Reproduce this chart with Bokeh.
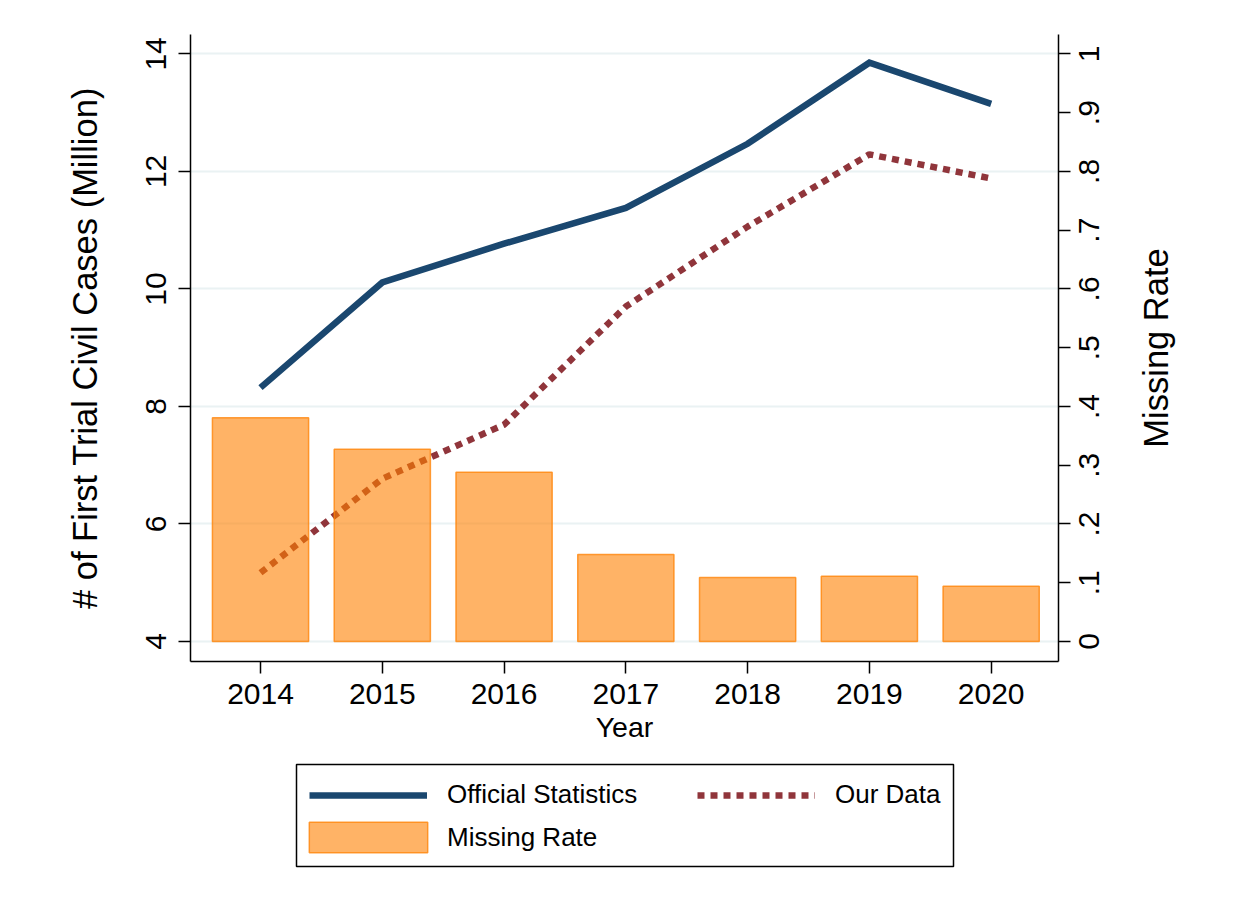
import math
from bokeh.plotting import figure
from bokeh.layouts import column
from bokeh.models import Range1d, LinearAxis, FixedTicker, Legend, LegendItem
from bokeh.embed import file_html
from bokeh.resources import INLINE

# ---- data ----
years = [2014, 2015, 2016, 2017, 2018, 2019, 2020]
official = [8.32, 10.11, 10.77, 11.38, 12.47, 13.85, 13.15]
our_data = [5.17, 6.77, 7.69, 9.70, 11.06, 12.29, 11.88]
missing_rate = [0.381, 0.327, 0.288, 0.148, 0.109, 0.111, 0.094]
left_ticks = [4, 6, 8, 10, 12, 14]
right_ticks = [0, 0.1, 0.2, 0.3, 0.4, 0.5, 0.6, 0.7, 0.8, 0.9, 1]
right_tick_labels = ["0", ".1", ".2", ".3", ".4", ".5", ".6", ".7", ".8", ".9", "1"]

# ---- style / layout (page pixels) ----
FONT = "Liberation Sans"
BLUE = "#1a476f"
MAROON = "#90353b"
ORANGE = "#ff8000"
W, H_TOTAL, H1 = 1241, 899, 755
H2 = H_TOTAL - H1
FRAME_L, FRAME_R, FRAME_T, FRAME_B = 190, 1058, 34, 661
BOX_L, BOX_R, BOX_T, BOX_B = 296, 953, 764, 866
TICK_PX, TITLE_PX = 30, 34.5

# advance widths (em) of Liberation Sans, used to centre rotated labels
EM = {".": 0.278, " ": 0.278, "M": 0.833, "i": 0.222, "s": 0.5, "n": 0.556,
      "g": 0.556, "R": 0.722, "a": 0.556, "t": 0.278, "e": 0.556}


def text_px(s, size):
    return sum(EM.get(c, 0.556) for c in s) * size


line_off = dict(line_color=BLUE, line_width=6.5, line_join="miter")
line_our = dict(line_color=MAROON, line_width=6.5, line_dash="7 6", line_cap="butt")
bar_style = dict(width=0.79, fill_color=ORANGE, fill_alpha=0.6, line_color=ORANGE,
                 line_alpha=0.75, line_width=1.5)

y_lo, y_hi = 3.66, 14.33
r_lo, r_hi = (y_lo - 4) / 10, (y_hi - 4) / 10
px_per_left = (FRAME_B - FRAME_T) / (y_hi - y_lo)
px_per_rate = (FRAME_B - FRAME_T) / (r_hi - r_lo)

p = figure(width=W, height=H1, output_backend="svg", toolbar_location=None,
           x_range=Range1d(2013.425, 2020.553), y_range=Range1d(y_lo, y_hi),
           min_border_left=FRAME_L, min_border_right=W - FRAME_R,
           min_border_top=FRAME_T, min_border_bottom=H1 - FRAME_B)
p.outline_line_color = None
p.background_fill_color = "white"
p.border_fill_color = "white"
p.extra_y_ranges = {"rate": Range1d(r_lo, r_hi)}

p.line(years, official, **line_off)
p.line(years, our_data, **line_our)
p.vbar(x=years, top=missing_rate, bottom=0, y_range_name="rate", **bar_style)

left = p.yaxis[0]
bottom = p.xaxis[0]
bottom.ticker = FixedTicker(ticks=years)
left.ticker = FixedTicker(ticks=left_ticks)
p.xgrid.grid_line_color = None
p.ygrid.ticker = FixedTicker(ticks=left_ticks)
p.ygrid.grid_line_color = "#eaf2f3"
p.ygrid.grid_line_width = 2

# right axis: tick marks drawn as "minor" ticks at the true values; the labels sit
# on hidden major ticks shifted so each rotated label is centred on its value
label_pos = [v - text_px(s, TICK_PX) / 2 / px_per_rate
             for v, s in zip(right_ticks, right_tick_labels)]
right = LinearAxis(y_range_name="rate",
                   ticker=FixedTicker(ticks=label_pos, minor_ticks=right_ticks),
                   major_label_overrides={k: v for k, v in zip(label_pos, right_tick_labels)})
p.add_layout(right, "right")

for ax in [bottom, left, right]:
    ax.axis_line_color = "black"
    ax.axis_line_width = 1.5
    ax.major_tick_line_color = "black"
    ax.major_tick_line_width = 1.5
    ax.major_tick_out = 12
    ax.major_tick_in = 0
    ax.minor_tick_line_color = None
    ax.major_label_text_font = FONT
    ax.major_label_text_font_size = f"{TICK_PX}px"
    ax.major_label_text_color = "black"
    ax.axis_label_text_font = FONT
    ax.axis_label_text_font_style = "normal"
    ax.axis_label_text_color = "black"

right.major_tick_line_color = None
right.minor_tick_line_color = "black"
right.minor_tick_line_width = 1.5
right.minor_tick_out = 12
right.minor_tick_in = 0
right.major_label_orientation = math.pi / 2
right.major_label_standoff = 19

bottom.axis_label = "Year"
bottom.axis_label_text_font_size = "28.5px"
bottom.major_label_standoff = 10
bottom.axis_label_standoff = 4

left.axis_label = "# of First Trial Civil Cases (Million)"
left.axis_label_text_font_size = f"{TITLE_PX}px"
left.major_label_orientation = "vertical"
left.major_label_standoff = 12
left.axis_label_standoff = 40

# right-hand title, centred on the frame and reading bottom-to-top
title_text = "Missing Rate"
title_pos = (y_lo + y_hi) / 2 - text_px(title_text, TITLE_PX) / 2 / px_per_left
title_ax = LinearAxis(ticker=FixedTicker(ticks=[title_pos]),
                      major_label_overrides={title_pos: title_text})
title_ax.axis_line_color = None
title_ax.major_tick_line_color = None
title_ax.minor_tick_line_color = None
title_ax.major_tick_out = 0
title_ax.major_tick_in = 0
title_ax.major_label_orientation = math.pi / 2
title_ax.major_label_text_font = FONT
title_ax.major_label_text_font_size = f"{TITLE_PX}px"
title_ax.major_label_text_color = "black"
title_ax.major_label_standoff = 44
p.add_layout(title_ax, "right")

# ---- legend panel (second figure, ranges in page pixels) ----
q = figure(width=W, height=H2, output_backend="svg", toolbar_location=None,
           x_axis_type=None, y_axis_type=None,
           x_range=Range1d(FRAME_L, FRAME_R), y_range=Range1d(H_TOTAL, H1),
           min_border_left=FRAME_L, min_border_right=W - FRAME_R,
           min_border_top=0, min_border_bottom=0)
q.outline_line_color = None
q.grid.grid_line_color = None
q.background_fill_color = "white"
q.border_fill_color = "white"
q.quad(left=[BOX_L], right=[BOX_R], top=[BOX_T], bottom=[BOX_B],
       fill_color="white", line_color="black", line_width=1.5)
l_off = q.line(years, official, visible=False, **line_off)
l_our = q.line(years, our_data, visible=False, **line_our)
l_bar = q.vbar(x=years, top=missing_rate, bottom=0, visible=False, **bar_style)


def make_legend(item, loc, gw=118, gh=30, standoff=20):
    lg = Legend(items=[item], location=loc, orientation="vertical")
    lg.label_text_font = FONT
    lg.label_text_font_size = "26px"
    lg.label_text_color = "black"
    lg.glyph_width = gw
    lg.glyph_height = gh
    lg.label_standoff = standoff
    lg.label_height = gh
    lg.spacing = 0
    lg.padding = 0
    lg.margin = 0
    lg.border_line_color = None
    lg.background_fill_alpha = 0
    return lg


row1_c, row2_c = 795, 837
q.add_layout(make_legend(LegendItem(label="Official Statistics", renderers=[l_off]),
                         (309 - FRAME_L, H_TOTAL - (row1_c + 15))), "center")
q.add_layout(make_legend(LegendItem(label="Our Data", renderers=[l_our]),
                         (697 - FRAME_L, H_TOTAL - (row1_c + 15))), "center")
q.add_layout(make_legend(LegendItem(label="Missing Rate", renderers=[l_bar]),
                         (294 - FRAME_L, H_TOTAL - (row2_c + 19)),
                         gw=148, gh=38, standoff=5), "center")

layout = column(p, q, spacing=0)
open("out.html", "w").write(file_html(layout, INLINE))
